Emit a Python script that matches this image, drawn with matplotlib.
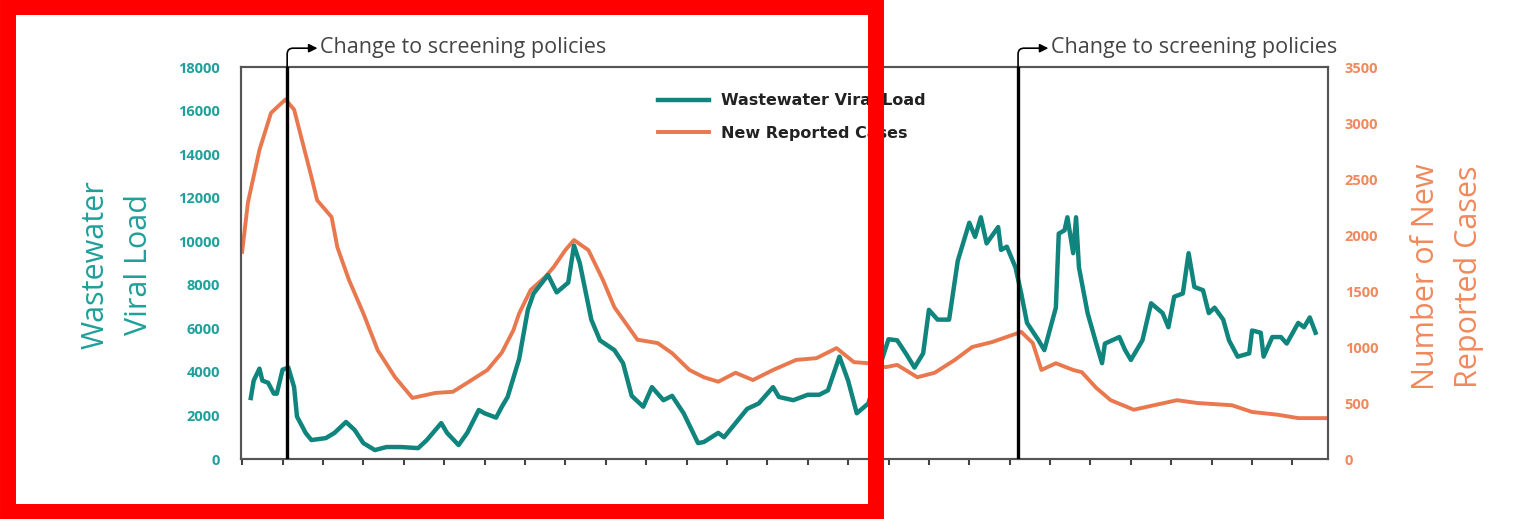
import matplotlib
matplotlib.use("Agg")
import matplotlib.pyplot as plt
from matplotlib.patches import Rectangle
import numpy as np

# days since start of the period (ticks every 14 days)
case_days = [0, 2, 6, 10, 15, 18, 21, 24, 26, 31, 33, 37, 42, 47, 53, 59, 67, 73, 78, 85,
             90, 94, 96, 100, 105, 108, 112, 115, 120, 125, 129, 137, 144, 149, 155, 160,
             165, 171, 177, 184, 188, 192, 199, 206, 212, 217, 223, 227, 234, 240, 247,
             253, 260, 265, 270, 274, 277, 282, 288, 291, 296, 301, 309, 316, 324, 331,
             343, 350, 359, 366, 376]
new_cases = [1850, 2290, 2760, 3090, 3210, 3120, 2820, 2520, 2310, 2160, 1890, 1600, 1300,
             970, 730, 545, 590, 600, 680, 795, 950, 1150, 1300, 1510, 1625, 1715, 1865,
             1955, 1865, 1600, 1355, 1065, 1035, 945, 795, 730, 690, 770, 705, 795, 840,
             885, 900, 990, 865, 855, 820, 840, 730, 770, 885, 1000, 1045, 1090, 1135,
             1035, 795, 855, 795, 775, 635, 525, 440, 480, 525, 500, 480, 420, 395, 365,
             365]

load_days = [3, 4, 6, 7, 9, 11, 12, 14, 16, 18, 19, 22, 24, 29, 32, 36, 39, 42, 46, 50, 55,
             61, 64, 69, 71, 75, 78, 82, 84, 88, 90, 92, 96, 99, 101, 106, 109, 113, 115,
             117, 121, 124, 129, 132, 135, 139, 142, 146, 149, 153, 158, 160, 165, 167,
             171, 175, 179, 184, 186, 191, 196, 200, 203, 207, 210, 213, 217, 220, 224,
             227, 230, 233, 236, 238, 241, 245, 248, 252, 254, 256, 258, 262, 263, 265,
             268, 270, 272, 276, 278, 282, 283, 285, 286, 288, 289, 290, 293, 296, 298,
             299, 304, 306, 308, 312, 315, 319, 321, 323, 326, 328, 330, 333, 335, 337,
             340, 342, 345, 349, 350, 353, 354, 357, 360, 362, 366, 368, 370, 372]
viral_load = [2800, 3600, 4150, 3600, 3500, 3000, 3000, 4100, 4200, 3300, 1950, 1200, 870,
              960, 1200, 1700, 1330, 730, 410, 550, 550, 500, 870, 1650, 1200, 640, 1200,
              2250, 2100, 1900, 2400, 2850, 4600, 6850, 7600, 8450, 7650, 8100, 9800, 9000,
              6400, 5450, 5000, 4400, 2900, 2400, 3300, 2700, 2900, 2100, 730, 780, 1200,
              1000, 1650, 2300, 2550, 3300, 2850, 2700, 2950, 2950, 3150, 4700, 3600, 2100,
              2550, 3850, 5500, 5450, 4850, 4200, 4850, 6850, 6400, 6400, 9100, 10850, 10200,
              11100, 9900, 10650, 9600, 9750, 8800, 7600, 6250, 5450, 5000, 6950, 10350,
              10500, 11100, 9450, 11100, 8800, 6700, 5300, 4400, 5300, 5600, 5000, 4550,
              5450, 7150, 6700, 6050, 7450, 7600, 9450, 7900, 7750, 6700, 6950, 6400, 5450,
              4700, 4850, 5900, 5800, 4700, 5600, 5600, 5300, 6250, 6050, 6500, 5800]

policy_days = [15.6, 268.9]
tick_days = np.arange(0, 365, 14)

TEAL = "#10857d"
TEAL_TEXT = "#20a09a"
ORANGE = "#e9784e"
ORANGE_TEXT = "#f0895c"
FONT = "Open Sans"


def main() -> None:
    plt.rcParams["font.family"] = [FONT, "DejaVu Sans"]

    fig = plt.figure(figsize=(15.37, 5.19), dpi=100)
    ax = fig.add_axes([0.1568, 0.1156, 0.7072, 0.7553])
    ax2 = ax.twinx()

    l1, = ax.plot(load_days, viral_load, color=TEAL, lw=3.2, solid_joinstyle="round",
                  label="Wastewater Viral Load", zorder=3)
    l2, = ax2.plot(case_days, new_cases, color=ORANGE, lw=2.8, solid_joinstyle="round",
                   label="New Reported Cases", zorder=2)

    ax.set_xlim(-0.4, 376.3)
    ax.set_ylim(0, 18000)
    ax2.set_ylim(0, 3500)
    ax.set_yticks(np.arange(0, 18001, 2000))
    ax2.set_yticks(np.arange(0, 3501, 500))
    ax.set_xticks(tick_days)
    ax.set_xticklabels([])

    ax.tick_params(axis="x", direction="out", length=4, width=1.5, color="#444444")
    ax.tick_params(axis="y", length=0, pad=15, labelsize=10.5, labelcolor=TEAL_TEXT)
    ax2.tick_params(axis="y", length=0, pad=12, labelsize=10.5, labelcolor=ORANGE_TEXT)
    for lab in ax.get_yticklabels() + ax2.get_yticklabels():
        lab.set_fontweight("bold")

    for a in (ax, ax2):
        for sp in a.spines.values():
            sp.set_color("#555555")
            sp.set_linewidth(1.5)

    ax.set_ylabel("Wastewater\nViral Load", fontsize=22, color=TEAL_TEXT, linespacing=1.6)
    ax.yaxis.set_label_coords(-0.08, 0.495)
    ax2.set_ylabel("Number of New\nReported Cases", fontsize=22, color=ORANGE_TEXT,
                   linespacing=1.6)
    ax2.yaxis.set_label_coords(1.076, 0.464)

    # screening policy changes
    trans = ax.get_xaxis_transform()
    for d in policy_days:
        ax.axvline(d, color="black", lw=2.4, zorder=4)
        ax.annotate("", xy=(d + 10.5, 1.048), xytext=(d, 1.0), xycoords=trans,
                    textcoords=trans, annotation_clip=False,
                    arrowprops=dict(arrowstyle="-|>,head_length=0.5,head_width=0.25",
                                    color="black", lw=1.2, shrinkA=0, shrinkB=0,
                                    connectionstyle="angle,angleA=90,angleB=0,rad=6"))
        ax.text(d + 11.5, 1.05, "Change to screening policies", transform=trans,
                fontsize=15.5, color="#444444", va="center", ha="left")

    leg = ax.legend(handles=[l1, l2], loc="upper left", bbox_to_anchor=(0.37, 0.97),
                    frameon=False, fontsize=11.5, handlelength=3.2, labelspacing=1.1,
                    handletextpad=0.8)
    for t in leg.get_texts():
        t.set_fontweight("bold")
        t.set_family(["DejaVu Sans"])
        t.set_color("#222222")
    ax.set_zorder(ax2.get_zorder() + 1)
    ax.patch.set_visible(False)

    # red highlight box around the first part of the figure
    box = Rectangle((8 / 1537, 7 / 519), 868 / 1537, 505 / 519, transform=fig.transFigure,
                    fill=False, edgecolor="#ff0000", lw=11.5, zorder=10)
    fig.add_artist(box)

    fig.savefig("out.png", dpi=100)


if __name__ == "__main__":
    main()
